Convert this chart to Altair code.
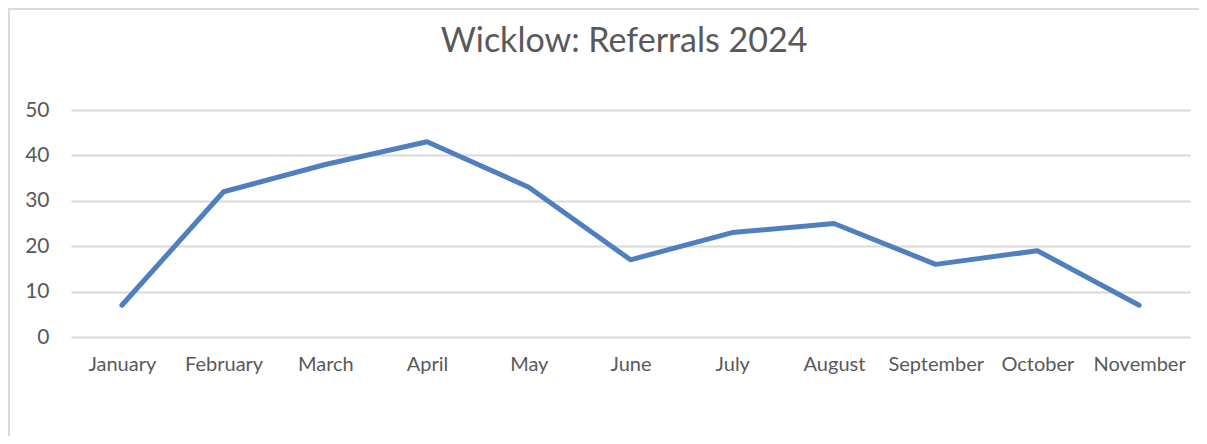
import altair as alt
import pandas as pd

months = ["January", "February", "March", "April", "May", "June",
          "July", "August", "September", "October", "November"]
referrals = [7, 32, 38, 43, 33, 17, 23, 25, 16, 19, 7]
y_ticks = [0, 10, 20, 30, 40, 50]
title_text = "Wicklow: Referrals 2024"

df = pd.DataFrame({"Month": months, "Referrals": referrals})

PLOT_W = 1119
PLOT_H = 227
PAD = {"left": 63, "top": 102, "right": 9, "bottom": 99}

base = alt.Chart(df)

frame_top = base.mark_rule(stroke="#d9d9d9", strokeWidth=1.5).encode(
    x=alt.value(-62.5), x2=alt.value(PLOT_W + 60),
    y=alt.value(-101.5),
)
frame_left = base.mark_rule(stroke="#d9d9d9", strokeWidth=1.5).encode(
    x=alt.value(-62.5),
    y=alt.value(-101.5), y2=alt.value(PLOT_H + 150),
)

title = alt.Chart(pd.DataFrame({"t": [title_text]})).mark_text(
    font="Lato", fontSize=34, color="#595959", align="center",
    baseline="alphabetic").encode(
    text="t:N", x=alt.value(553), y=alt.value(-58))

line = base.mark_line(color="#4f7fbf", strokeWidth=5, strokeCap="round",
                      strokeJoin="round").encode(
    x=alt.X("Month:N", sort=months, title=None,
            scale=alt.Scale(paddingInner=0, paddingOuter=0.5),
            axis=alt.Axis(labelAngle=0, ticks=False, domain=False, grid=False,
                          labelPadding=17, labelFont="Lato", labelFontSize=20,
                          labelColor="#595959")),
    y=alt.Y("Referrals:Q", title=None,
            scale=alt.Scale(domain=[0, 50], nice=False),
            axis=alt.Axis(values=y_ticks, ticks=False, domain=False,
                          gridColor="#d9d9d9", gridWidth=2,
                          labelPadding=22, labelFont="Lato", labelFontSize=21,
                          labelColor="#595959")),
)

chart = alt.layer(frame_top, frame_left, title, line).properties(
    width=PLOT_W,
    height=PLOT_H,
    autosize=alt.AutoSizeParams(type="none"),
    padding=PAD,
).configure_view(stroke=None)

chart.save("out.html", embed_options={"renderer": "svg", "actions": False})
